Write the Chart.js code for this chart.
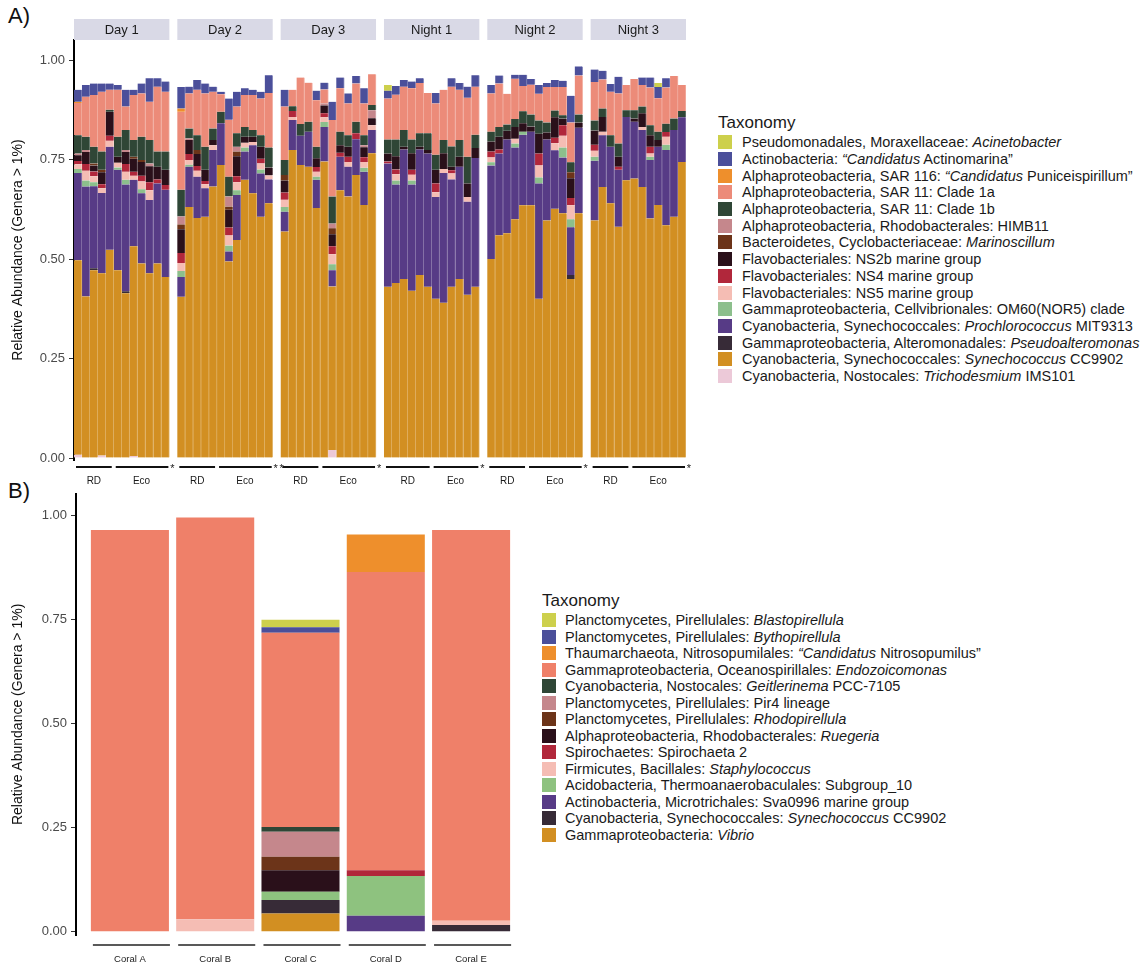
<!DOCTYPE html>
<html><head><meta charset="utf-8">
<script src="https://cdn.jsdelivr.net/npm/chart.js@4.4.1/dist/chart.umd.min.js"></script>
<style>
body{margin:0;background:#fff;font-family:"Liberation Sans",Arial,sans-serif;color:#1a1a1a}
#wrap{position:relative;width:1146px;height:967px;overflow:hidden}
canvas{position:absolute}
.plab{position:absolute;font-size:22px;color:#111}
.legend{position:absolute}
.legend .ttl{font-size:17px;line-height:19px;height:21px}
.row{height:16.7px;display:flex;align-items:center;white-space:nowrap;color:#1a1a1a}
.sw{width:14px;height:14px;flex:none}
</style></head>
<body><div id="wrap">
<div class="plab" style="left:8px;top:3px">A)</div>
<div class="plab" style="left:8px;top:478px">B)</div>
<canvas id="cA" width="700" height="490" style="left:0;top:0"></canvas>
<canvas id="cB" width="530" height="485" style="left:0;top:482px"></canvas>
<div class="legend" id="legA" style="left:718px;top:113px"></div>
<div class="legend" id="legB" style="left:542px;top:591px"></div>
</div>
<script>
// ---------------- Panel A data ----------------
const facets = ['Day 1','Day 2','Day 3','Night 1','Night 2','Night 3'];
const groupLabels = ['RD','Eco'];
const rdCount = [5,5,5,6,5,5];
const starCount = [1,2,1,1,1,1];
const yTicks = [0, 0.25, 0.5, 0.75, 1];

// 12 samples per facet, facets in order Day1..Night3
const trichodesmium = [
 .008,0,0,.006,0,0,0,.005,0,0,0,0,
 0,0,0,0,0,0,0,0,0,0,0,0,
 0,0,0,0,0,0,.020,0,0,0,0,0,
 0,0,0,0,0,0,0,0,0,0,0,0,
 0,0,0,0,0,0,0,0,0,0,0,0,
 0,0,0,0,0,0,0,0,0,0,0,0];
const synechococcus = [
 .489,.406,.472,.458,.523,.472,.414,.527,.489,.464,.489,.455,
 .405,.631,.603,.606,.682,.736,.494,.548,.699,.665,.606,.640,
 .569,.774,.736,.732,.628,.745,.411,.673,.657,.711,.636,.766,
 .430,.440,.450,.420,.460,.430,.400,.390,.430,.450,.410,.430,
 .500,.560,.565,.600,.635,.635,.400,.597,.626,.615,.450,.615,
 .597,.681,.640,.581,.698,.702,.681,.602,.636,.585,.606,.744];
const pseudoalteromonas = [
 0,0,.005,0,0,0,.005,0,0,0,0,0,
 0,0,0,0,0,0,0,0,0,0,0,0,
 0,0,0,0,0,0,0,0,0,0,0,0,
 0,0,0,0,0,0,0,0,0,0,0,0,
 0,0,0,0,0,0,0,0,0,0,.010,0,
 0,0,0,0,0,0,0,0,0,0,0,0];
const prochlorococcus = [
 .219,.276,.206,.202,.259,.252,.268,.167,.176,.184,.201,.219,
 .050,.101,.104,.072,.092,.105,.025,.113,.071,.121,.109,.060,
 .050,.075,.074,.088,.071,.087,.041,.084,.075,.090,.083,.058,
 .310,.247,.325,.267,.315,.335,.256,.326,.270,.282,.234,.324,
 .235,.205,.235,.180,.177,.185,.290,.203,.147,.140,.120,.215,
 .150,.130,.142,.143,.159,.143,.143,.147,.146,.189,.218,.112];
const om60 = [
 .010,.015,.010,0,0,.006,.012,0,.010,0,0,0,
 .015,.005,0,0,0,0,.015,.012,.010,0,.010,0,
 .012,0,0,0,.008,.012,.015,0,0,0,.010,0,
 0,.010,0,.010,0,0,0,0,0,0,0,0,
 .008,0,0,.010,.008,0,.015,0,0,.025,.020,0,
 .010,0,0,0,0,0,0,.008,0,.013,0,0];
const ns5 = [
 .012,.025,.015,.012,.015,.012,.020,.010,.020,.025,0,0,
 .020,.012,.015,.010,.012,0,.025,.020,.012,.008,.015,.010,
 .018,.008,0,0,.012,.012,.025,0,.012,0,.015,.012,
 0,.016,0,.015,0,0,.012,.010,.015,0,.012,0,
 .012,0,0,.012,0,0,.030,0,.018,.030,.035,0,
 .015,.009,0,0,0,0,.008,.008,0,.020,0,0];
const ns4 = [
 .008,.017,.012,.010,.013,0,.020,.010,.014,.020,.010,.012,
 .025,.015,.012,.008,0,0,.020,.015,0,0,.012,0,
 .018,.015,0,0,.012,.010,.020,.010,.013,.015,.012,0,
 .005,.012,0,.012,0,0,.022,0,.008,0,0,0,
 .015,.010,0,0,0,0,.030,0,.014,.026,.018,0,
 .015,0,0,.008,0,0,0,.017,0,.012,0,0];
const ns2b = [
 .015,.030,.015,.030,.060,.015,.030,.033,.035,.040,.032,.038,
 .060,.035,.030,.028,.013,0,.045,.050,.015,.013,.030,.020,
 .030,0,0,0,.022,.020,.030,.019,.025,0,.025,.018,
 .020,.033,.007,.042,.007,.009,.034,.040,.009,.025,.034,.025,
 .025,.032,.022,.030,.021,.013,.050,.018,.051,.017,.050,.013,
 .036,.037,0,.025,0,.008,.034,.029,.017,0,0,0];
const marinoscillum = [
 0,0,.005,.006,0,0,0,.005,.005,0,0,0,
 .012,0,.010,0,0,0,.008,.012,0,0,0,0,
 .014,0,0,0,0,0,.015,0,0,0,0,0,
 0,0,0,0,0,0,0,0,0,0,0,0,
 0,0,0,0,0,0,0,0,0,0,.015,0,
 0,0,0,0,0,0,0,0,0,0,0,0];
const himb11 = [
 .004,.005,0,0,0,0,.005,0,0,.007,0,0,
 .020,.004,0,0,0,0,.025,.012,0,0,0,0,
 0,0,0,0,0,.005,.012,0,0,0,.005,.020,
 0,0,0,0,0,0,0,0,0,0,0,0,
 0,0,0,0,0,0,0,0,0,0,0,0,
 0,0,0,0,0,0,0,0,0,0,0,0];
const clade1b = [
 .046,.033,.042,.046,.005,.050,.050,.042,.058,.059,.038,.046,
 .067,.025,.037,.058,.029,.029,.050,.034,.025,.017,.029,.050,
 .038,.012,.029,.025,.029,0,.068,.034,.029,.029,.025,.013,
 .035,.042,.042,.034,.034,.042,.038,.033,.051,.042,.067,.033,
 .025,.025,.016,.020,.030,.030,.033,.025,.017,.008,.025,.020,
 .025,.021,.029,.033,.017,.021,.017,.025,.021,.021,.029,.016];
const clade1a = [
 .081,.101,.130,.150,.050,.118,.059,.113,.109,.096,.163,.150,
 .196,.088,.114,.134,.092,.044,.143,.067,.080,.088,.092,.137,
 .134,.041,.117,.098,.117,.035,.192,.109,.080,.096,.080,.077,
 .103,.113,.109,.129,.126,.101,.129,.126,.150,.126,.148,.121,
 .096,.109,.077,.101,.064,.075,.067,.089,.059,.071,.100,.098,
 .097,.073,.109,.126,.063,.078,.054,.095,.084,.091,.107,.065];
const puniceispirillum = [
 .003,0,0,0,0,0,0,0,0,0,0,0,
 .008,0,0,0,0,0,0,0,0,0,0,0,
 0,0,0,0,0,0,0,0,0,0,0,0,
 0,0,0,0,0,0,0,0,0,0,0,0,
 0,0,0,0,0,0,0,0,0,0,0,0,
 0,0,0,0,0,0,0,0,0,0,0,0];
const actinomarina = [
 .030,.029,.029,.021,.016,.012,.042,.013,.025,.059,.021,.026,
 .054,.017,.025,.025,.013,.006,.053,.037,.017,.013,.017,.045,
 .042,0,0,0,.024,.017,.046,.027,.025,.019,.038,0,
 .020,.022,.017,.017,.012,0,.026,0,.021,.017,.028,.029,
 .021,.020,0,.010,.028,.014,.022,.010,.018,.016,.067,.023,
 .031,.022,.020,.042,0,0,.019,.025,.028,.023,0,0];
const acinetobacter = [
 0,0,0,0,0,0,0,0,0,0,0,0,
 0,0,0,0,0,0,0,0,0,0,0,0,
 0,0,0,0,0,0,0,0,0,0,0,0,
 .014,0,0,0,0,0,0,0,0,0,0,0,
 0,0,0,0,0,0,0,0,0,0,0,0,
 0,0,0,0,0,0,0,0,.010,0,0,0];

// legend order (top of stack first)
const taxaA = [
 ['Pseudomonadales, Moraxellaceae: <i>Acinetobacter</i>', acinetobacter],
 ['Actinobacteria: <i>“Candidatus</i> Actinomarina”', actinomarina],
 ['Alphaproteobacteria, SAR 116: <i>“Candidatus</i> Puniceispirillum”', puniceispirillum],
 ['Alphaproteobacteria, SAR 11: Clade 1a', clade1a],
 ['Alphaproteobacteria, SAR 11: Clade 1b', clade1b],
 ['Alphaproteobacteria, Rhodobacterales: HIMB11', himb11],
 ['Bacteroidetes, Cyclobacteriaceae: <i>Marinoscillum</i>', marinoscillum],
 ['Flavobacteriales: NS2b marine group', ns2b],
 ['Flavobacteriales: NS4 marine group', ns4],
 ['Flavobacteriales: NS5 marine group', ns5],
 ['Gammaproteobacteria, Cellvibrionales: OM60(NOR5) clade', om60],
 ['Cyanobacteria, Synechococcales: <i>Prochlorococcus</i> MIT9313', prochlorococcus],
 ['Gammaproteobacteria, Alteromonadales: <i>Pseudoalteromonas</i>', pseudoalteromonas],
 ['Cyanobacteria, Synechococcales: <i>Synechococcus</i> CC9902', synechococcus],
 ['Cyanobacteria, Nostocales: <i>Trichodesmium</i> IMS101', trichodesmium]
];
const colorsA = ['#cdd04c','#4b4f9a','#ee8f2c','#ec8b79','#2f4636','#c5878c','#6c3419','#2a101a','#b1273b','#f5bdb4','#8cbf8c','#573b86','#372b37','#d28f22','#ecc9d8'];

// ---------------- Panel B data ----------------
const corals = ['Coral A','Coral B','Coral C','Coral D','Coral E'];
const blastopirellula = [0,0,.018,0,0];
const bythopirellula  = [0,0,.013,0,0];
const nitrosopumilus  = [0,0,0,.090,0];
const endozoicomonas  = [.966,.966,.467,.717,.940];
const geitlerinema    = [0,0,.012,0,0];
const pir4            = [0,0,.060,0,0];
const rhodopirellula  = [0,0,.032,0,0];
const ruegeria        = [0,0,.052,0,0];
const spirochaeta     = [0,0,0,.014,0];
const staphylococcus  = [0,.030,0,0,.010];
const subgroup10      = [0,0,.020,.096,0];
const sva0996         = [0,0,0,.038,0];
const synechococcusB  = [0,0,.032,0,.016];
const vibrio          = [0,0,.044,0,0];
const taxaB = [
 ['Planctomycetes, Pirellulales: <i>Blastopirellula</i>', blastopirellula],
 ['Planctomycetes, Pirellulales: <i>Bythopirellula</i>', bythopirellula],
 ['Thaumarchaeota, Nitrosopumilales: <i>“Candidatus</i> Nitrosopumilus”', nitrosopumilus],
 ['Gammaproteobacteria, Oceanospirillales: <i>Endozoicomonas</i>', endozoicomonas],
 ['Cyanobacteria, Nostocales: <i>Geitlerinema</i> PCC-7105', geitlerinema],
 ['Planctomycetes, Pirellulales: Pir4 lineage', pir4],
 ['Planctomycetes, Pirellulales: <i>Rhodopirellula</i>', rhodopirellula],
 ['Alphaproteobacteria, Rhodobacterales: <i>Ruegeria</i>', ruegeria],
 ['Spirochaetes: Spirochaeta 2', spirochaeta],
 ['Firmicutes, Bacillales: <i>Staphylococcus</i>', staphylococcus],
 ['Acidobacteria, Thermoanaerobaculales: Subgroup_10', subgroup10],
 ['Actinobacteria, Microtrichales: Sva0996 marine group', sva0996],
 ['Cyanobacteria, Synechococcales: <i>Synechococcus</i> CC9902', synechococcusB],
 ['Gammaproteobacteria: <i>Vibrio</i>', vibrio]
];
const colorsB = ['#cdd04c','#4b4f9a','#ee8f2c','#ef8069','#2f4636','#c5878c','#6c3419','#2a101a','#b1273b','#f5bdb4','#8ec27f','#573b86','#372b37','#d28f22'];

// ---------------- helpers ----------------
Chart.defaults.font.family = '"Liberation Sans", Arial, sans-serif';
const PER = 12;
function withGaps(vals){
  const out=[];
  facets.forEach((f,i)=>{ out.push(...vals.slice(i*PER,(i+1)*PER)); if(i<facets.length-1) out.push(null); });
  return out;
}
const labelsA = withGaps(facets.flatMap(f=>Array.from({length:PER},(_,k)=>f+' #'+(k+1))));
function lighten(hex,t){
  const n=parseInt(hex.slice(1),16); const r=n>>16,g=(n>>8)&255,b=n&255;
  const m=c=>Math.round(c+(255-c)*t);
  return 'rgb('+m(r)+','+m(g)+','+m(b)+')';
}
function buildLegend(el, taxa, colors, rowH, fs, gap){
  let h='<div class="ttl">Taxonomy</div>';
  taxa.forEach((t,i)=>{
    h+='<div class="row" style="height:'+rowH+'px;font-size:'+fs+'px"><div class="sw" style="background:'+colors[i]+';margin-right:'+gap+'px"></div><span>'+t[0]+'</span></div>';
  });
  el.innerHTML=h;
}
buildLegend(document.getElementById('legA'), taxaA, colorsA, 16.7, 14.5, 10);
buildLegend(document.getElementById('legB'), taxaB, colorsB, 16.5, 14.5, 9);

function yAxis(min,max,width){
  return {
    type:'linear', stacked:true, min:min, max:max,
    afterBuildTicks:s=>{ s.ticks = yTicks.map(v=>({value:v})); },
    afterFit:s=>{ s.width = width; },
    ticks:{ callback:v=>Number(v).toFixed(2), color:'#4a4a4a', font:{size:13}, padding:4 },
    grid:{ display:true, drawOnChartArea:false, drawTicks:true, tickLength:5, color:'#333' },
    border:{ display:true, color:'#000', width:2 },
    title:{ display:true, text:'Relative Abundance (Genera > 1%)', color:'#111', font:{size:14}, padding:{top:10,bottom:0} }
  };
}

// ---------------- Chart A ----------------
const facetDecor = {
  id:'facetDecor',
  afterDraw(chart){
    const ctx=chart.ctx, xs=chart.scales.x;
    const step = xs.getPixelForValue(1)-xs.getPixelForValue(0);
    ctx.save();
    facets.forEach((name,f)=>{
      const i0=f*(PER+1), i1=i0+PER-1;
      const L=xs.getPixelForValue(i0)-step/2, R=xs.getPixelForValue(i1)+step/2;
      ctx.fillStyle='#d9d9e6'; ctx.fillRect(L,19,R-L,21);
      ctx.fillStyle='#1a1a1a'; ctx.font='13px "Liberation Sans", Arial'; ctx.textAlign='center'; ctx.textBaseline='middle';
      ctx.fillText(name,(L+R)/2,30);
      const mid = xs.getPixelForValue(i0+rdCount[f]-1)+step/2;
      ctx.strokeStyle='#111'; ctx.lineWidth=2;
      ctx.beginPath(); ctx.moveTo(L+2,467); ctx.lineTo(mid-2,467); ctx.moveTo(mid+2,467); ctx.lineTo(R-1,467); ctx.stroke();
      ctx.font='10px "Liberation Sans", Arial';
      ctx.fillText(groupLabels[0],(L+mid)/2,481);
      ctx.fillText(groupLabels[1],(mid+R)/2,481);
      ctx.font='11px "Liberation Sans", Arial';
      for(let s=0;s<starCount[f];s++) ctx.fillText('*',R+3+s*6,469);
    });
    ctx.restore();
  }
};
new Chart(document.getElementById('cA'),{
  type:'bar',
  data:{ labels:labelsA, datasets: taxaA.map((t,i)=>({
    label:t[0].replace(/<[^>]+>/g,''), data:withGaps(t[1]), backgroundColor:colorsA[i],
    borderColor:lighten(colorsA[i],0.35), borderWidth:{left:0,right:1,top:0,bottom:0}, borderSkipped:false,
    barPercentage:1, categoryPercentage:1
  })).reverse() },
  options:{
    responsive:false, animation:false, devicePixelRatio:1, events:[],
    layout:{ padding:{left:0,top:40,right:14,bottom:30} },
    plugins:{ legend:{display:false}, tooltip:{enabled:false} },
    scales:{
      x:{ type:'category', stacked:true, display:false, offset:true },
      y:yAxis(-0.005,1.0503,74)
    }
  },
  plugins:[facetDecor]
});

// ---------------- Chart B ----------------
const coralLines = {
  id:'coralLines',
  afterDraw(chart){
    const ctx=chart.ctx, meta=chart.getDatasetMeta(0);
    const y = chart.chartArea.bottom + 10;
    ctx.save(); ctx.strokeStyle='#222'; ctx.lineWidth=1.6;
    meta.data.forEach(el=>{
      ctx.beginPath(); ctx.moveTo(el.x-el.width/2+2,y); ctx.lineTo(el.x+el.width/2+1,y); ctx.stroke();
    });
    ctx.restore();
  }
};
new Chart(document.getElementById('cB'),{
  type:'bar',
  data:{ datasets: taxaB.map((t,i)=>({
    label:t[0].replace(/<[^>]+>/g,''), data:t[1].map((v,k)=>({x:k,y:v})), backgroundColor:colorsB[i],
    borderWidth:0, barPercentage:1, categoryPercentage:0.915
  })).reverse() },
  options:{
    responsive:false, animation:false, devicePixelRatio:1, events:[],
    layout:{ padding:{left:0,top:11,right:12,bottom:2} },
    plugins:{ legend:{display:false}, tooltip:{enabled:false} },
    scales:{
      x:{ type:'linear', stacked:true, offset:false, min:-0.632, max:4.55,
          afterBuildTicks:s=>{ s.ticks = corals.map((c,k)=>({value:k})); },
          afterFit:s=>{ s.height = 30; },
          ticks:{ callback:v=>corals[v], color:'#222', font:{size:9.5}, padding:19, maxRotation:0, autoSkip:false },
          grid:{ display:false, drawTicks:false, offset:false }, border:{display:false} },
      y:yAxis(-0.008,1.053,76)
    }
  },
  plugins:[coralLines]
});
</script>
</body></html>
